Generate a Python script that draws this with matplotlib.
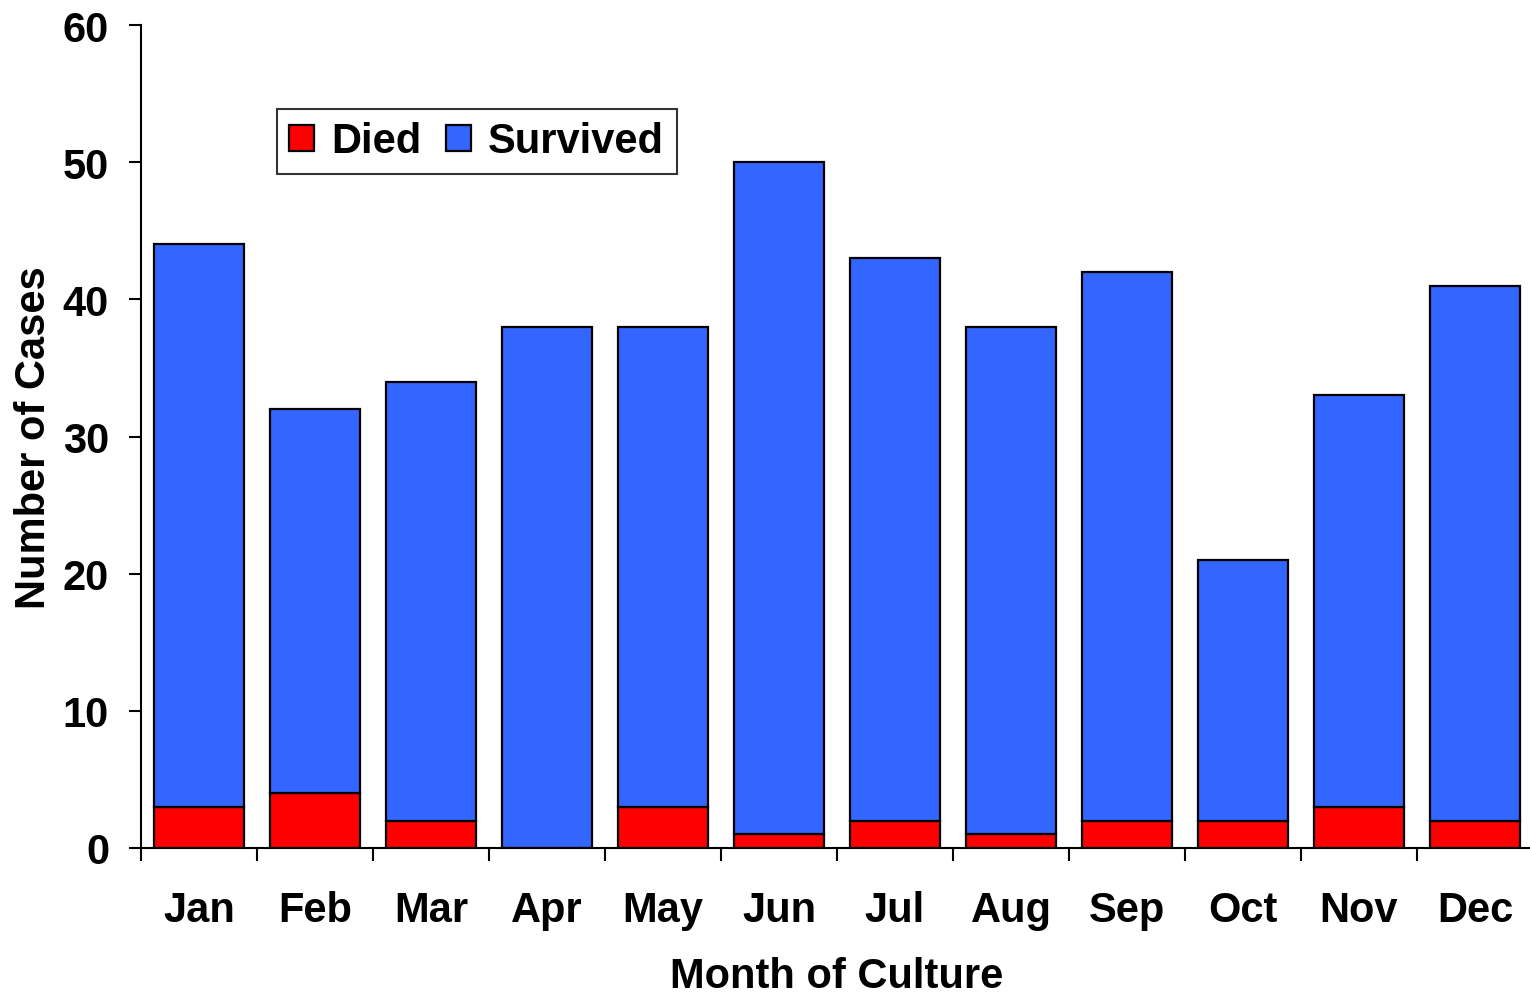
import numpy as np
import matplotlib.pyplot as plt
from matplotlib.ticker import FixedLocator, NullFormatter

plt.rcParams['font.family'] = ['Liberation Sans', 'DejaVu Sans']
plt.rcParams['font.weight'] = 'bold'

months = ['Jan', 'Feb', 'Mar', 'Apr', 'May', 'Jun', 'Jul', 'Aug', 'Sep', 'Oct', 'Nov', 'Dec']
died = [3, 4, 2, 0, 3, 1, 2, 1, 2, 2, 3, 2]
survived = [41, 28, 32, 38, 35, 49, 41, 37, 40, 19, 30, 39]
y_ticks = [0, 10, 20, 30, 40, 50, 60]

fig = plt.figure(figsize=(15.3, 9.95), dpi=100)
ax = fig.add_axes([141 / 1530, 146 / 995, 1392 / 1530, 823 / 995])

x = np.arange(len(months))
ax.bar(x, died, width=0.78, color='#FF0000', edgecolor='black', linewidth=1.6, label='Died')
ax.bar(x, survived, width=0.78, bottom=died, color='#3366FF', edgecolor='black',
       linewidth=1.6, label='Survived')

ax.set_xlim(-0.5, len(months) - 0.5)
ax.set_ylim(0, 60)
ax.set_yticks(y_ticks)
ax.tick_params(axis='y', labelsize=30, length=9, width=1.5, pad=14)

ax.set_xticks(x)
ax.set_xticklabels(months)
ax.xaxis.set_minor_locator(FixedLocator(np.arange(-0.5, len(months), 1.0)))
ax.xaxis.set_minor_formatter(NullFormatter())
ax.tick_params(axis='x', which='major', length=0, labelsize=30, pad=30)
ax.tick_params(axis='x', which='minor', length=9, width=1.5)

for s in ['top', 'right']:
    ax.spines[s].set_visible(False)
for s in ['left', 'bottom']:
    ax.spines[s].set_linewidth(1.5)

ax.set_xlabel('Month of Culture', fontsize=30, fontweight='bold', labelpad=19)
ax.set_ylabel('Number of Cases', fontsize=30, fontweight='bold', labelpad=6)

leg = ax.legend(loc='upper left', bbox_to_anchor=(0.0977, 0.898), borderaxespad=0,
                ncol=2, fontsize=30, frameon=True, fancybox=False, edgecolor='black',
                handlelength=0.6, handleheight=0.6, handletextpad=0.4,
                columnspacing=0.6, borderpad=0.3)
leg.get_frame().set_linewidth(1.5)

plt.savefig('out.png', dpi=100)
plt.close()
